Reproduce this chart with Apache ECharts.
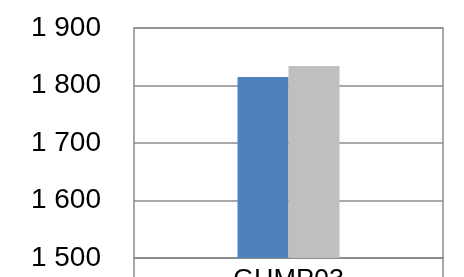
<!DOCTYPE html>
<html>
<head>
<meta charset="utf-8">
<script src="https://cdn.jsdelivr.net/npm/echarts@6/dist/echarts.min.js"></script>
<style>
  html, body { margin: 0; padding: 0; background: #fff; }
  #chart { width: 464px; height: 277px; }
</style>
</head>
<body>
<div id="chart"></div>
<script>
// data
var categories = ['GHMP03'];
var seriesBlue = [1815];
var seriesGray = [1834];
var yTicks = [1500, 1600, 1700, 1800, 1900];

var myChart = echarts.init(document.getElementById('chart'));

function fmtThousands(v) {
    return String(v).replace(/\B(?=(\d{3})+(?!\d))/g, ' ');
}

var option = {
    animation: false,
    textStyle: { fontFamily: 'Liberation Sans' },
    grid: {
        left: 134, right: 21, top: 28, bottom: 19,
        containLabel: false,
        outerBoundsMode: 'none',
        show: true,
        borderColor: '#8c8c8c',
        borderWidth: 1.5
    },
    xAxis: {
        type: 'category',
        data: categories,
        axisLine: { lineStyle: { color: '#8c8c8c', width: 1.5 } },
        axisTick: { show: true, length: 22, lineStyle: { color: '#8c8c8c', width: 1.5 } },
        axisLabel: { color: '#000', fontSize: 27, margin: 9 }
    },
    yAxis: {
        type: 'value',
        min: yTicks[0],
        max: yTicks[yTicks.length - 1],
        interval: 100,
        axisLine: { show: false },
        axisTick: { show: false },
        axisLabel: {
            color: '#000', fontSize: 28, margin: 33,
            formatter: function (v) { return fmtThousands(v); }
        },
        splitLine: { lineStyle: { color: '#8c8c8c', width: 1.5 } }
    },
    series: [
        {
            type: 'bar',
            data: seriesBlue,
            barWidth: 51,
            barGap: 0,
            itemStyle: { color: '#4F81BD' }
        },
        {
            type: 'bar',
            data: seriesGray,
            barWidth: 51,
            barGap: 0,
            itemStyle: { color: '#BFBFBF' }
        }
    ]
};
myChart.setOption(option);
</script>
</body>
</html>
